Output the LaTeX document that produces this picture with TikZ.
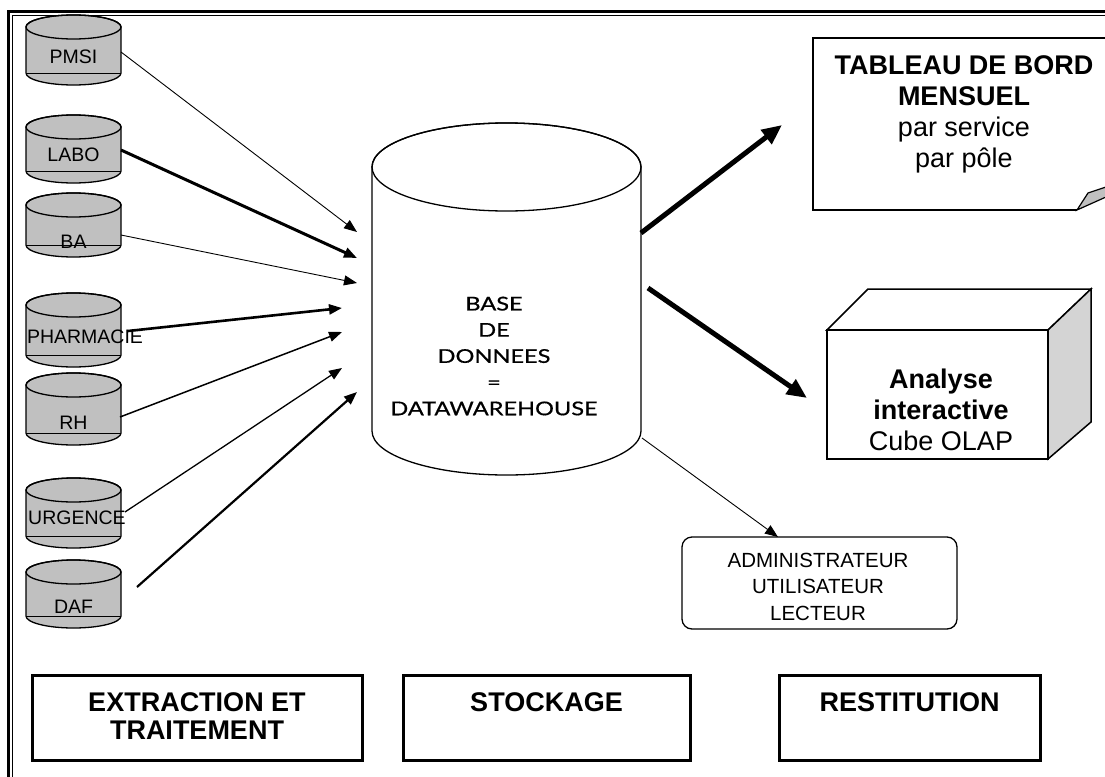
\documentclass[tikz,border=0pt]{standalone}
\usepackage{fontspec}
\setmainfont{Liberation Sans}
\newfontfamily\dwfont[FakeStretch=1.24,FakeBold=0.6]{Lato}
\usetikzlibrary{arrows.meta}
\definecolor{cylgray}{gray}{0.753}
\definecolor{sidegray}{gray}{0.83}
\newcommand{\smallcyl}[2]{%
  \pgfmathsetmacro{\cyT}{-(#1+12)}%
  \pgfmathsetmacro{\cyB}{-(#2-12)}%
  \filldraw[cylfill] (26,\cyT) -- (26,\cyB) arc[start angle=180,end angle=360,x radius=47.5,y radius=12] -- (121,\cyT) arc[start angle=0,end angle=180,x radius=47.5,y radius=12] -- cycle;
  \draw[line width=1.3pt] (73.5,\cyT) ellipse[x radius=47.5,y radius=12];
  \draw[line width=0.6pt] (26,\cyB) -- (121,\cyB);
}
\begin{document}
\begin{tikzpicture}[x=1pt,y=1pt,
  lbl/.style={inner sep=0pt, font=\fontsize{19.5}{20}\selectfont},
  cylfill/.style={fill=cylgray, draw=black, line width=1.3pt},
  feed/.style={-{Triangle[length=13pt,width=10pt]}},
  bigarrow/.style={line width=5pt,-{Triangle[length=20pt,width=17pt]}},
  phase/.style={draw=black, line width=3pt},
  ptext/.style={inner sep=0pt, anchor=north, align=center, font=\fontsize{27}{28}\selectfont\bfseries}
]
\useasboundingbox (0,0) rectangle (1105,-776);
\fill[white] (0,0) rectangle (1105,-776);

% frame (double line)
\draw[line width=2.5pt] (8.5,-790) -- (8.5,-11.5) -- (1120,-11.5);
\draw[line width=0.9pt] (12.5,-790) -- (12.5,-15.2) -- (1120,-15.2);

% source cylinders
\smallcyl{15}{85}
\smallcyl{115}{183}
\smallcyl{193}{257}
\smallcyl{293}{367}
\smallcyl{373}{445}
\smallcyl{478}{548}
\smallcyl{560}{628}
\node[lbl] (pmsi) at (73.5,-57) {PMSI};
\node[lbl] (labo) at (73.5,-155) {LABO};
\node[lbl] (ba) at (73.5,-242) {BA};
\node[lbl] (pharma) at (85,-337) {PHARMACIE};
\node[lbl] (rh) at (73.5,-423) {RH};
\node[lbl] (urg) at (77,-518) {URGENCE};
\node[lbl] (daf) at (73.5,-607) {DAF};

% data warehouse cylinder
\filldraw[fill=white, draw=black, line width=1.3pt] (372,-167) -- (372,-431) arc[start angle=180,end angle=360,x radius=134.5,y radius=44] -- (641,-167) arc[start angle=0,end angle=180,x radius=134.5,y radius=44] -- cycle;
\draw[line width=1.3pt] (506.5,-167) ellipse[x radius=134.5,y radius=44];
\node[inner sep=0pt, anchor=north, align=center, font=\dwfont\fontsize{19}{26.2}\selectfont] (dw) at (494,-296.5)
  {BASE\\DE\\DONNEES\\=\\DATAWAREHOUSE};

% feed arrows
\coordinate (pmsiOut) at (121,-52);
\coordinate (laboOut) at (121,-150);
\coordinate (baOut) at (121,-235);
\coordinate (pharmaOut) at (128,-331);
\coordinate (rhOut) at (120,-417);
\coordinate (urgOut) at (125,-512);
\coordinate (dafOut) at (137,-587);
\coordinate (in1) at (357,-232);
\coordinate (in2) at (357,-258);
\coordinate (in3) at (357,-283);
\coordinate (in4) at (342,-308);
\coordinate (in5) at (342,-332);
\coordinate (in6) at (342,-368);
\coordinate (in7) at (357,-392);
\draw[feed, line width=0.9pt] (pmsiOut) -- (in1);
\draw[feed, line width=3pt] (laboOut) -- (in2);
\draw[feed, line width=0.9pt] (baOut) -- (in3);
\draw[feed, line width=2.6pt] (pharmaOut) -- (in4);
\draw[feed, line width=1.5pt] (rhOut) -- (in5);
\draw[feed, line width=1.3pt] (urgOut) -- (in6);
\draw[feed, line width=2.2pt] (dafOut) -- (in7);

% tableau de bord (document with folded corner)
\draw[line width=1.5pt] (1110,-38) -- (813,-38) -- (813,-210) -- (1077,-210);
\filldraw[fill=cylgray, draw=black, line width=1.2pt] (1077,-210) -- (1088,-193) -- (1106,-187) -- (1106,-197) -- cycle;
\node[inner sep=0pt, anchor=north, align=center, font=\fontsize{27}{31}\selectfont] (tdb) at (964,-55.5)
  {\textbf{TABLEAU DE BORD}\\\textbf{MENSUEL}\\par service\\par pôle};

% cube OLAP
\filldraw[fill=white, draw=black, line width=1.5pt] (827,-330) -- (868,-289) -- (1091,-289) -- (1048,-330) -- cycle;
\filldraw[fill=sidegray, draw=black, line width=1.5pt] (1048,-330) -- (1091,-289) -- (1091,-422) -- (1048,-459) -- cycle;
\draw[line width=1.5pt] (827,-330) rectangle (1048,-459);
\node[inner sep=0pt, anchor=north, align=center, font=\fontsize{27}{31}\selectfont] (cube) at (941,-368.5)
  {\textbf{Analyse}\\\textbf{interactive}\\Cube OLAP};

% users box
\draw[line width=1.3pt, rounded corners=10pt] (682,-537) rectangle (957,-629);
\node[inner sep=0pt, anchor=north, align=center, font=\fontsize{20.5}{26.5}\selectfont] (users) at (818,-552.5)
  {ADMINISTRATEUR\\UTILISATEUR\\LECTEUR};

% output arrows
\coordinate (dwOutA) at (641,-233);
\coordinate (tdbIn) at (782,-125);
\coordinate (dwOutB) at (648,-288);
\coordinate (cubeIn) at (807,-398);
\coordinate (dwOutC) at (642,-438);
\coordinate (usersIn) at (778,-537);
\draw[bigarrow] (dwOutA) -- (tdbIn);
\draw[bigarrow] (dwOutB) -- (cubeIn);
\draw[feed, line width=0.9pt] (dwOutC) -- (usersIn);

% phase boxes
\draw[phase] (32,-675) rectangle (362,-760);
\draw[phase] (403,-675) rectangle (690,-760);
\draw[phase] (779,-675) rectangle (1040,-760);
\node[ptext] (ext) at (197,-692.5) {EXTRACTION ET\\TRAITEMENT};
\node[ptext] (sto) at (546.5,-692.5) {STOCKAGE};
\node[ptext] (res) at (909.5,-692.5) {RESTITUTION};
\end{tikzpicture}
\end{document}
